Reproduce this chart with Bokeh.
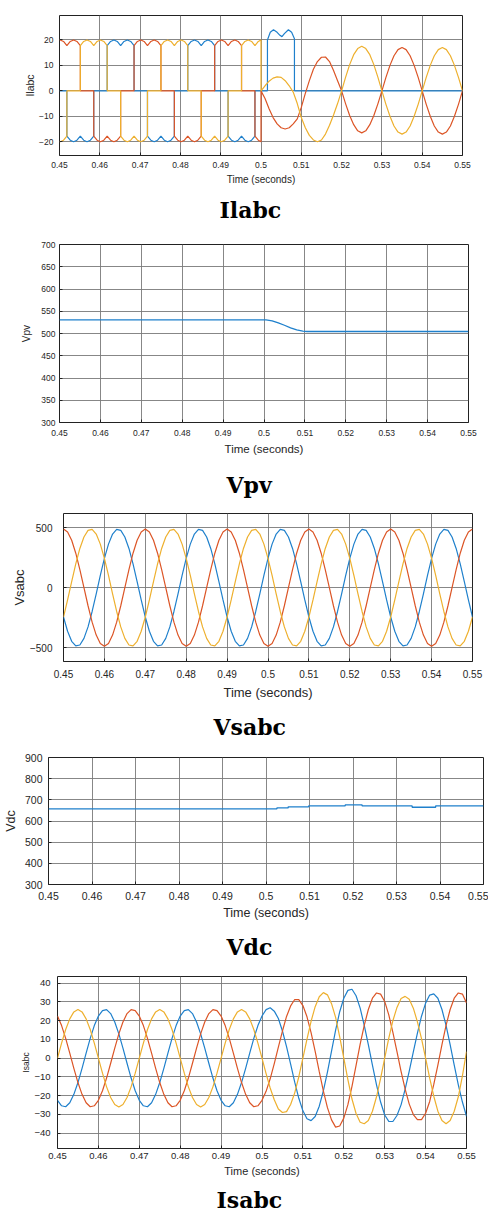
from bokeh.plotting import figure
from bokeh.layouts import column
from bokeh.models import Range1d, FixedTicker, NumeralTickFormatter, Title
from bokeh.embed import file_html
from bokeh.resources import INLINE

# ---------------- data ----------------
x_ticks = [0.45, 0.46, 0.47, 0.48, 0.49, 0.5, 0.51, 0.52, 0.53, 0.54, 0.55]

# Ilabc (load currents) ---------------------------------------------------
t_il_pre = [
    0.45000, 0.45017, 0.45100, 0.45183,
    0.45183, 0.45267, 0.45350, 0.45433, 0.45517,
    0.45517, 0.45600, 0.45683, 0.45767, 0.45850,
    0.45850, 0.45933, 0.46017, 0.46100, 0.46183,
    0.46183, 0.46267, 0.46350, 0.46433, 0.46517,
    0.46517, 0.46600, 0.46683, 0.46767, 0.46850,
    0.46850, 0.46933, 0.47017, 0.47100, 0.47183,
    0.47183, 0.47267, 0.47350, 0.47433, 0.47517,
    0.47517, 0.47600, 0.47683, 0.47767, 0.47850,
    0.47850, 0.47933, 0.48017, 0.48100, 0.48183,
    0.48183, 0.48267, 0.48350, 0.48433, 0.48517,
    0.48517, 0.48600, 0.48683, 0.48767, 0.48850,
    0.48850, 0.48933, 0.49017, 0.49100, 0.49183,
    0.49183, 0.49267, 0.49350, 0.49433, 0.49517,
    0.49517, 0.49600, 0.49683, 0.49767, 0.49850,
    0.49850, 0.49933, 0.50000]
il_a_pre = [
    20.0, 20.0, 19.4, 17.8,
    17.8, 19.4, 20.0, 19.4, 17.8,
    0, 0, 0, 0, 0,
    -17.8, -19.4, -20.0, -19.4, -17.8,
    -17.8, -19.4, -20.0, -19.4, -17.8,
    0, 0, 0, 0, 0,
    17.8, 19.4, 20.0, 19.4, 17.8,
    17.8, 19.4, 20.0, 19.4, 17.8,
    0, 0, 0, 0, 0,
    -17.8, -19.4, -20.0, -19.4, -17.8,
    -17.8, -19.4, -20.0, -19.4, -17.8,
    0, 0, 0, 0, 0,
    17.8, 19.4, 20.0, 19.4, 17.8,
    17.8, 19.4, 20.0, 19.4, 17.8,
    0, 0, 0, 0, 0,
    -17.8, -19.4, -20.0]
il_b_pre = [
    0, 0, 0, 0,
    -17.8, -19.4, -20.0, -19.4, -17.8,
    -17.8, -19.4, -20.0, -19.4, -17.8,
    0, 0, 0, 0, 0,
    17.8, 19.4, 20.0, 19.4, 17.8,
    17.8, 19.4, 20.0, 19.4, 17.8,
    0, 0, 0, 0, 0,
    -17.8, -19.4, -20.0, -19.4, -17.8,
    -17.8, -19.4, -20.0, -19.4, -17.8,
    0, 0, 0, 0, 0,
    17.8, 19.4, 20.0, 19.4, 17.8,
    17.8, 19.4, 20.0, 19.4, 17.8,
    0, 0, 0, 0, 0,
    -17.8, -19.4, -20.0, -19.4, -17.8,
    -17.8, -19.4, -20.0, -19.4, -17.8,
    0, 0, 0]
il_c_pre = [
    -20.0, -20.0, -19.4, -17.8,
    0, 0, 0, 0, 0,
    17.8, 19.4, 20.0, 19.4, 17.8,
    17.8, 19.4, 20.0, 19.4, 17.8,
    0, 0, 0, 0, 0,
    -17.8, -19.4, -20.0, -19.4, -17.8,
    -17.8, -19.4, -20.0, -19.4, -17.8,
    0, 0, 0, 0, 0,
    17.8, 19.4, 20.0, 19.4, 17.8,
    17.8, 19.4, 20.0, 19.4, 17.8,
    0, 0, 0, 0, 0,
    -17.8, -19.4, -20.0, -19.4, -17.8,
    -17.8, -19.4, -20.0, -19.4, -17.8,
    0, 0, 0, 0, 0,
    17.8, 19.4, 20.0, 19.4, 17.8,
    17.8, 19.4, 20.0]
t_il_post = [
    0.500, 0.501, 0.502, 0.503, 0.504, 0.505, 0.506, 0.507, 0.508, 0.509,
    0.510, 0.511, 0.512, 0.513, 0.514, 0.515, 0.516, 0.517, 0.518, 0.519,
    0.520, 0.521, 0.522, 0.523, 0.524, 0.525, 0.526, 0.527, 0.528, 0.529,
    0.530, 0.531, 0.532, 0.533, 0.534, 0.535, 0.536, 0.537, 0.538, 0.539,
    0.540, 0.541, 0.542, 0.543, 0.544, 0.545, 0.546, 0.547, 0.548, 0.549,
    0.550]
il_a_post = [
    0, -3.0, -7.0, -10.5, -13.0, -14.5, -15.0, -14.5, -13.0, -11.0,
    -6.5, -1.0, 4.0, 8.5, 11.5, 13.2, 13.3, 11.5, 8.0, 4.0,
    0, -5.1, -9.7, -13.3, -15.7, -16.5, -15.7, -13.3, -9.7, -5.1,
    0, 5.3, 10.0, 13.8, 16.2, 17.0, 16.2, 13.8, 10.0, 5.3,
    0, -5.3, -10.0, -13.8, -16.2, -17.0, -16.2, -13.8, -10.0, -5.3,
    0]
il_c_post = [
    0, 2.0, 3.8, 5.0, 5.5, 5.3, 4.0, 2.0, -0.5, -5.0,
    -10.5, -14.5, -17.5, -19.3, -20.0, -19.3, -17.0, -13.5, -9.5, -5.0,
    0, 5.4, 10.3, 14.2, 16.6, 17.5, 16.6, 14.2, 10.3, 5.4,
    0, -5.3, -10.0, -13.8, -16.2, -17.0, -16.2, -13.8, -10.0, -5.3,
    0, 5.3, 10.0, 13.8, 16.2, 17.0, 16.2, 13.8, 10.0, 5.3,
    0]
t_il_b_post = [0.5000, 0.5016, 0.5016, 0.5023, 0.5031, 0.5040, 0.5047, 0.5052,
               0.5058, 0.5068, 0.5076, 0.5083, 0.5083, 0.5500]
il_b_post = [0, 0, 20.0, 23.0, 24.0, 23.0, 21.8, 21.3, 22.5, 24.0, 23.0, 20.5, 0, 0]

# Vpv ---------------------------------------------------------------------
t_vpv = [0.45, 0.5005, 0.502, 0.5035, 0.505, 0.5065, 0.508, 0.5095, 0.5105, 0.55]
vpv = [530.5, 530.5, 528.5, 524.0, 518.5, 512.5, 508.0, 505.5, 504.5, 504.5]

# Vsabc and Isabc sampled every 1 ms ---------------------------------------
t_wave = [
    0.450, 0.451, 0.452, 0.453, 0.454, 0.455, 0.456, 0.457, 0.458, 0.459,
    0.460, 0.461, 0.462, 0.463, 0.464, 0.465, 0.466, 0.467, 0.468, 0.469,
    0.470, 0.471, 0.472, 0.473, 0.474, 0.475, 0.476, 0.477, 0.478, 0.479,
    0.480, 0.481, 0.482, 0.483, 0.484, 0.485, 0.486, 0.487, 0.488, 0.489,
    0.490, 0.491, 0.492, 0.493, 0.494, 0.495, 0.496, 0.497, 0.498, 0.499,
    0.500, 0.501, 0.502, 0.503, 0.504, 0.505, 0.506, 0.507, 0.508, 0.509,
    0.510, 0.511, 0.512, 0.513, 0.514, 0.515, 0.516, 0.517, 0.518, 0.519,
    0.520, 0.521, 0.522, 0.523, 0.524, 0.525, 0.526, 0.527, 0.528, 0.529,
    0.530, 0.531, 0.532, 0.533, 0.534, 0.535, 0.536, 0.537, 0.538, 0.539,
    0.540, 0.541, 0.542, 0.543, 0.544, 0.545, 0.546, 0.547, 0.548, 0.549,
    0.550]

vs_a = [
    490, 466, 396, 288, 151, 0, -151, -288, -396, -466,
    -490, -466, -396, -288, -151, 0, 151, 288, 396, 466,
    490, 466, 396, 288, 151, 0, -151, -288, -396, -466,
    -490, -466, -396, -288, -151, 0, 151, 288, 396, 466,
    490, 466, 396, 288, 151, 0, -151, -288, -396, -466,
    -490, -466, -396, -288, -151, 0, 151, 288, 396, 466,
    490, 466, 396, 288, 151, 0, -151, -288, -396, -466,
    -490, -466, -396, -288, -151, 0, 151, 288, 396, 466,
    490, 466, 396, 288, 151, 0, -151, -288, -396, -466,
    -490, -466, -396, -288, -151, 0, 151, 288, 396, 466,
    490]
vs_b = [
    -245, -364, -448, -487, -479, -424, -328, -199, -51, 102,
    245, 364, 448, 487, 479, 424, 328, 199, 51, -102,
    -245, -364, -448, -487, -479, -424, -328, -199, -51, 102,
    245, 364, 448, 487, 479, 424, 328, 199, 51, -102,
    -245, -364, -448, -487, -479, -424, -328, -199, -51, 102,
    245, 364, 448, 487, 479, 424, 328, 199, 51, -102,
    -245, -364, -448, -487, -479, -424, -328, -199, -51, 102,
    245, 364, 448, 487, 479, 424, 328, 199, 51, -102,
    -245, -364, -448, -487, -479, -424, -328, -199, -51, 102,
    245, 364, 448, 487, 479, 424, 328, 199, 51, -102,
    -245]
vs_c = [
    -245, -102, 51, 199, 328, 424, 479, 487, 448, 364,
    245, 102, -51, -199, -328, -424, -479, -487, -448, -364,
    -245, -102, 51, 199, 328, 424, 479, 487, 448, 364,
    245, 102, -51, -199, -328, -424, -479, -487, -448, -364,
    -245, -102, 51, 199, 328, 424, 479, 487, 448, 364,
    245, 102, -51, -199, -328, -424, -479, -487, -448, -364,
    -245, -102, 51, 199, 328, 424, 479, 487, 448, 364,
    245, 102, -51, -199, -328, -424, -479, -487, -448, -364,
    -245, -102, 51, 199, 328, 424, 479, 487, 448, 364,
    245, 102, -51, -199, -328, -424, -479, -487, -448, -364,
    -245]

is_a = [
    22.5, 17.4, 10.6, 2.7, -5.4, -13.0, -19.3, -23.8, -25.9, -25.4,
    -22.5, -17.4, -10.6, -2.7, 5.4, 13.0, 19.3, 23.8, 25.9, 25.4,
    22.5, 17.4, 10.6, 2.7, -5.4, -13.0, -19.3, -23.8, -25.9, -25.4,
    -22.5, -17.4, -10.6, -2.7, 5.4, 13.0, 19.3, 23.8, 25.9, 25.4,
    22.5, 17.4, 10.6, 2.7, -5.4, -13.0, -19.3, -23.8, -25.9, -25.4,
    -22.5, -17.7, -11.0, -2.9, 5.9, 14.5, 22.3, 27.9, 31.3, 31.3,
    28.1, 22.1, 13.6, 3.6, -7.2, -17.5, -26.4, -32.9, -36.8, -36.2,
    -32.0, -24.8, -15.0, -3.8, 7.5, 17.5, 26.0, 32.0, 34.8, 34.2,
    30.3, 23.1, 13.8, 3.5, -7.0, -16.5, -24.5, -30.1, -32.8, -32.8,
    -29.4, -23.1, -14.0, -3.7, 7.3, 17.5, 26.0, 32.0, 34.8, 34.2,
    29.5]
is_b = [
    -22.5, -25.4, -25.9, -23.8, -19.3, -13.0, -5.4, 2.7, 10.6, 17.4,
    22.5, 25.4, 25.9, 23.8, 19.3, 13.0, 5.4, -2.7, -10.6, -17.4,
    -22.5, -25.4, -25.9, -23.8, -19.3, -13.0, -5.4, 2.7, 10.6, 17.4,
    22.5, 25.4, 25.9, 23.8, 19.3, 13.0, 5.4, -2.7, -10.6, -17.4,
    -22.5, -25.4, -25.9, -23.8, -19.3, -13.0, -5.4, 2.7, 10.6, 17.4,
    22.5, 25.9, 26.9, 25.1, 21.2, 14.5, 6.2, -3.2, -12.8, -21.4,
    -28.1, -32.3, -33.3, -31.1, -25.6, -17.5, -7.4, 3.8, 15.0, 24.8,
    32.0, 36.2, 36.8, 33.3, 26.7, 17.5, 7.3, -3.7, -14.2, -23.4,
    -30.3, -33.7, -33.8, -30.6, -24.9, -16.5, -6.9, 3.4, 13.4, 22.4,
    29.4, 33.7, 34.3, 32.0, 26.0, 17.5, 7.3, -3.7, -14.2, -23.4,
    -31.0]
is_c = [
    0, 8.0, 15.3, 21.0, 24.7, 26.0, 24.7, 21.0, 15.3, 8.0,
    0, -8.0, -15.3, -21.0, -24.7, -26.0, -24.7, -21.0, -15.3, -8.0,
    0, 8.0, 15.3, 21.0, 24.7, 26.0, 24.7, 21.0, 15.3, 8.0,
    0, -8.0, -15.3, -21.0, -24.7, -26.0, -24.7, -21.0, -15.3, -8.0,
    0, 8.0, 15.3, 21.0, 24.7, 26.0, 24.7, 21.0, 15.3, 8.0,
    0, -8.2, -15.9, -22.2, -27.1, -29.0, -28.5, -24.7, -18.5, -9.9,
    0, 10.2, 19.7, 27.5, 32.8, 35.0, 33.8, 29.1, 21.8, 11.4,
    0, -11.4, -21.8, -29.5, -34.2, -35.0, -33.3, -28.3, -20.6, -10.8,
    0, 10.7, 20.0, 27.1, 31.9, 33.0, 31.4, 26.7, 19.4, 10.4,
    0, -10.7, -20.3, -28.3, -33.3, -35.0, -33.3, -28.3, -20.6, -9.5,
    3.5]

# Vdc -----------------------------------------------------------------------
t_vdc = [0.45, 0.5025, 0.5051, 0.5098, 0.5182, 0.5221, 0.5336, 0.539, 0.55]
vdc = [657, 662, 667, 671, 676, 671, 665, 671, 671]

captions = ["Ilabc", "Vpv", "Vsabc", "Vdc", "Isabc"]
y_labels = ["Ilabc", "Vpv", "Vsabc", "Vdc", "Isabc"]

# ---------------- styling ----------------
C_BLUE = "#1f80cc"
C_RED = "#dc5526"
C_YEL = "#eeb02e"
TXT = "#262626"
SANS = "Liberation Sans"


def make_fig(h, bl, br, bt, bb, yr, yticks, ylabel, caption, cap_off, cap_stand,
             tick_fs, xlab_fs, ylab_fs, xt_stand, yt_stand, xlab_stand, ylab_stand,
             spacer=None):
    p = figure(width=488, height=h, title=None,
               x_range=Range1d(0.45, 0.55), y_range=Range1d(yr[0], yr[1]),
               output_backend="svg", toolbar_location=None,
               min_border_left=bl, min_border_right=br,
               min_border_top=bt, min_border_bottom=bb)
    if hasattr(p, "frame_align"):
        p.frame_align = False
    p.background_fill_color = "white"
    p.border_fill_color = "white"
    p.outline_line_color = "#222222"
    p.outline_line_width = 1
    p.xaxis.ticker = FixedTicker(ticks=x_ticks)
    p.xaxis.formatter = NumeralTickFormatter(format="0.0[0]")
    p.yaxis.ticker = FixedTicker(ticks=yticks)
    for ax in (p.xaxis[0], p.yaxis[0]):
        ax.axis_line_color = None
        ax.major_tick_in = 3
        ax.major_tick_out = 0
        ax.major_tick_line_color = "#222222"
        ax.minor_tick_line_color = None
        ax.major_label_text_font = SANS
        ax.major_label_text_font_size = f"{tick_fs}px"
        ax.major_label_text_color = TXT
        ax.axis_label_text_font = SANS
        ax.axis_label_text_font_style = "normal"
        ax.axis_label_text_color = TXT
    p.xaxis.major_label_standoff = xt_stand
    p.yaxis.major_label_standoff = yt_stand
    p.xaxis.axis_label = "Time (seconds)"
    p.xaxis.axis_label_text_font_size = f"{xlab_fs}px"
    p.xaxis.axis_label_standoff = xlab_stand
    p.yaxis.axis_label = ylabel
    p.yaxis.axis_label_text_font_size = f"{ylab_fs}px"
    p.yaxis.axis_label_standoff = ylab_stand
    p.grid.grid_line_color = "#7a7a7a"
    p.grid.grid_line_width = 1
    p.grid.grid_line_alpha = 0.9
    if spacer is not None:
        gap = Title(text=" ", text_font_size="1px", text_alpha=0.0, standoff=spacer)
        p.add_layout(gap, "below")
    cap = Title(text=caption, align="left", offset=cap_off,
                text_font="DejaVu Serif", text_font_style="bold",
                text_font_size="22px", text_color="black", standoff=cap_stand)
    p.add_layout(cap, "below")
    return p


# Plot 1: Ilabc
p1 = make_fig(230, 59, 26, 15, 75, (-25.4, 29.6), [-20, -10, 0, 10, 20],
              y_labels[0], captions[0], 160, 14,
              8.5, 10, 10.5, 6, 6, 3, 0)
p1.line(t_il_pre + t_il_b_post, il_b_pre + il_b_post, line_color=C_BLUE, line_width=1.2)
p1.line(t_il_pre + t_il_post, il_a_pre + il_a_post, line_color=C_RED, line_width=1.2)
p1.line(t_il_pre + t_il_post, il_c_pre + il_c_post, line_color=C_YEL, line_width=1.2)

# Plot 2: Vpv
p2 = make_fig(280, 59, 20, 14, 88, (300, 700),
              [300, 350, 400, 450, 500, 550, 600, 650, 700],
              y_labels[1], captions[1], 167, 25,
              8.5, 11.5, 10, 7, 4, 4, 6)
p2.line(t_vpv, vpv, line_color=C_BLUE, line_width=1.3)

# Plot 3: Vsabc
p3 = make_fig(239, 63, 16, 3, 88, (-617, 620), [-500, 0, 500],
              y_labels[2], captions[2], 150, 18,
              10, 13, 13, 8, 11, 4, 0)
p3.line(t_wave, vs_b, line_color=C_BLUE, line_width=1.2)
p3.line(t_wave, vs_a, line_color=C_RED, line_width=1.2)
p3.line(t_wave, vs_c, line_color=C_YEL, line_width=1.2)

# Plot 4: Vdc
p4 = make_fig(220, 48, 5, 8, 85, (300, 900),
              [300, 400, 500, 600, 700, 800, 900],
              y_labels[3], captions[3], 178, 19,
              10.5, 12.5, 12.5, 7, 6, 3, 4)
p4.step(t_vdc, vdc, mode="after", line_color=C_BLUE, line_width=1.3)

# Plot 5: Isabc
p5 = make_fig(250, 57, 22, 7, 71, (-48.2, 43.6),
              [-40, -30, -20, -10, 0, 10, 20, 30, 40],
              y_labels[4], captions[4], 159, 10,
              9.5, 11, 8.5, 4, 7, 3, 0, spacer=7)
p5.line(t_wave, is_b, line_color=C_BLUE, line_width=1.2)
p5.line(t_wave, is_a, line_color=C_RED, line_width=1.2)
p5.line(t_wave, is_c, line_color=C_YEL, line_width=1.2)

layout = column(p1, p2, p3, p4, p5, spacing=0)
open("out.html", "w").write(file_html(layout, INLINE))
